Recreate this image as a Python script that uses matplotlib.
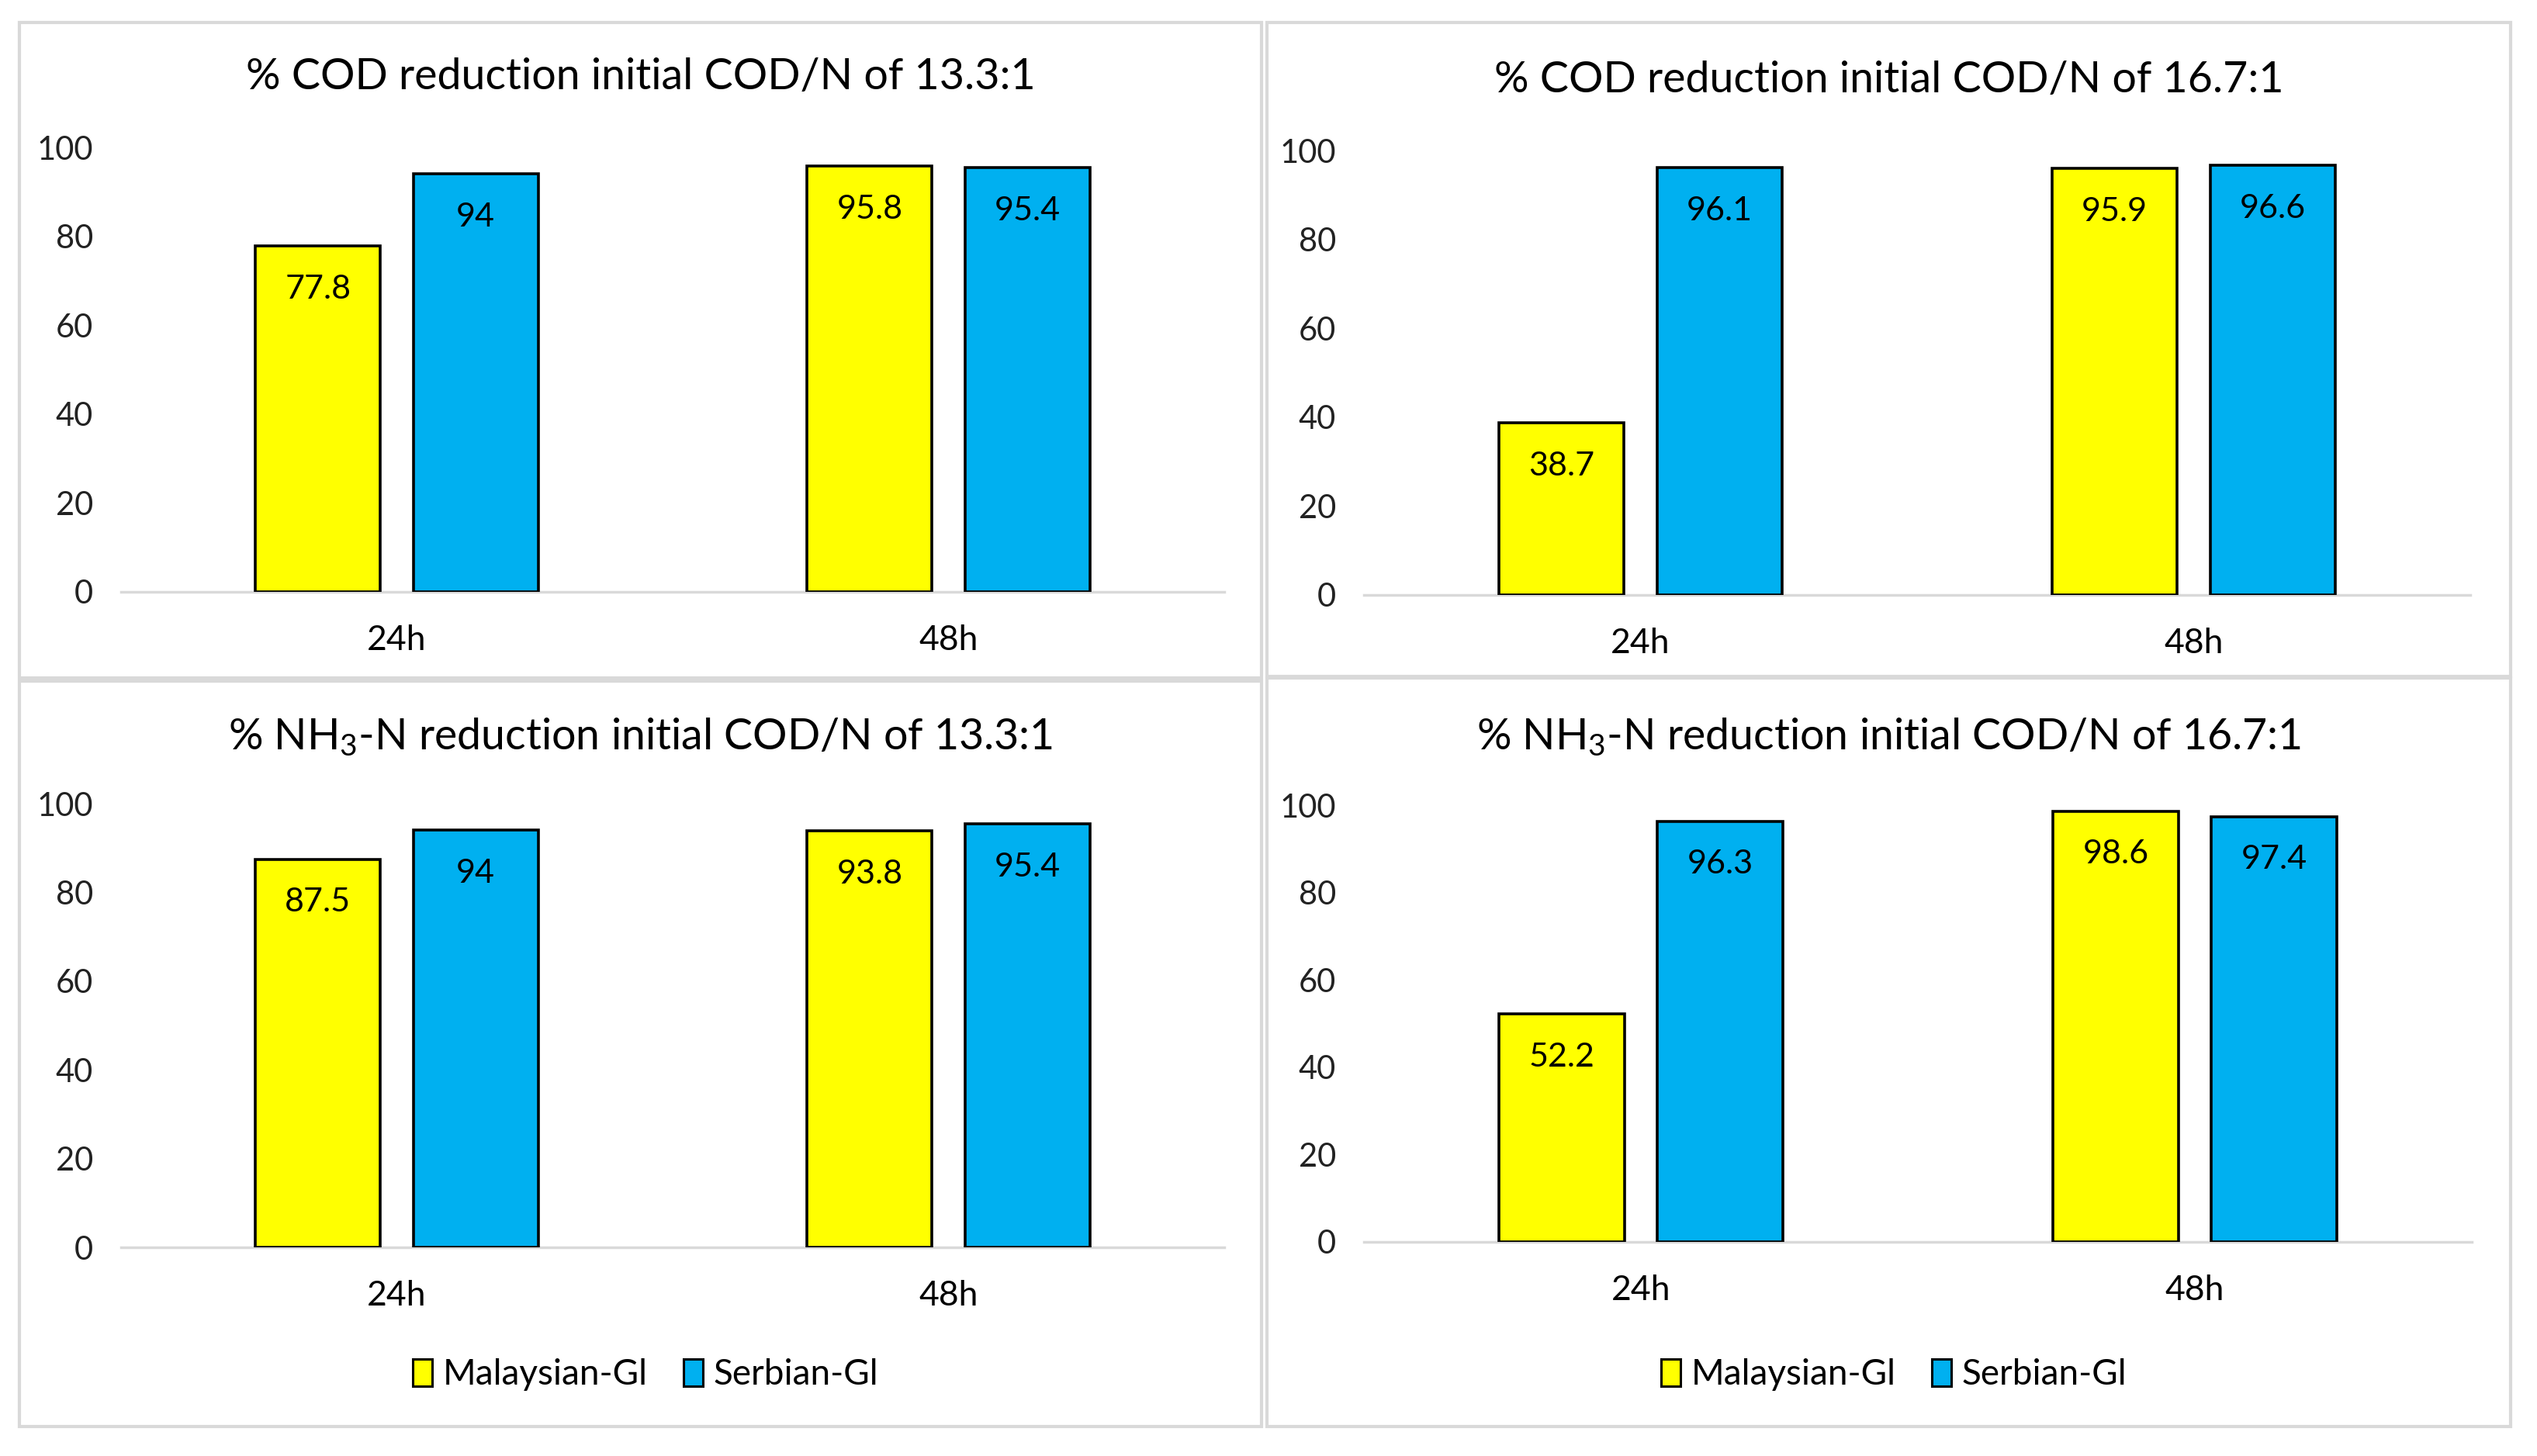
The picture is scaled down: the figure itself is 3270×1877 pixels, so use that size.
import matplotlib
matplotlib.use("Agg")
import matplotlib.pyplot as plt
from matplotlib.patches import Rectangle, Patch

# Chart data
categories = ["24h", "48h"]
series_names = ["Malaysian-Gl", "Serbian-Gl"]

cod_13 = {"Malaysian-Gl": [77.8, 95.8], "Serbian-Gl": [94, 95.4]}
cod_16 = {"Malaysian-Gl": [38.7, 95.9], "Serbian-Gl": [96.1, 96.6]}
nh3_13 = {"Malaysian-Gl": [87.5, 93.8], "Serbian-Gl": [94, 95.4]}
nh3_16 = {"Malaysian-Gl": [52.2, 98.6], "Serbian-Gl": [96.3, 97.4]}

titles = [
    "% COD reduction initial COD/N of 13.3:1",
    "% COD reduction initial COD/N of 16.7:1",
    "% NH$_3$-N reduction initial COD/N of 13.3:1",
    "% NH$_3$-N reduction initial COD/N of 16.7:1",
]
yticks = [0, 20, 40, 60, 80, 100]

colors = {"Malaysian-Gl": "#FFFF00", "Serbian-Gl": "#00B0F0"}

plt.rcParams["font.family"] = ["Lato", "DejaVu Sans"]
plt.rcParams["mathtext.fontset"] = "custom"
plt.rcParams["mathtext.rm"] = "Lato"
plt.rcParams["mathtext.it"] = "Lato"

W, H = 3270, 1877
fig = plt.figure(figsize=(W / 100, H / 100), dpi=100)
fig.patch.set_facecolor("white")


def px_box(x0, y0, x1, y1):
    # pixel box (top-left origin) -> figure fraction [left, bottom, width, height]
    return [x0 / W, 1 - y1 / H, (x1 - x0) / W, (y1 - y0) / H]


# panel frames (light grey boxes like the Excel chart areas)
panels = [(25, 29, 1626, 874), (1633, 29, 3236, 872),
          (25, 878, 1626, 1839), (1633, 874, 3236, 1839)]
for p in panels:
    l, b, w, h = px_box(*p)
    fig.add_artist(Rectangle((l, b), w, h, transform=fig.transFigure,
                             fill=False, edgecolor="#d9d9d9", linewidth=3))

# plot areas
axes_boxes = [(156, 190, 1578, 763), (1758, 194, 3184, 767),
              (156, 1036, 1578, 1608), (1758, 1038, 3186, 1601)]
title_y = [100, 104, 950, 950]
datasets = [cod_13, cod_16, nh3_13, nh3_16]

bar_w = 0.226
offsets = [-0.143, 0.143]

for i, (box, data) in enumerate(zip(axes_boxes, datasets)):
    ax = fig.add_axes(px_box(*box))
    x = list(range(len(categories)))
    for name, off in zip(series_names, offsets):
        vals = data[name]
        bars = ax.bar([xi + off for xi in x], vals, width=bar_w,
                      color=colors[name], edgecolor="black", linewidth=2.6,
                      label=name, zorder=3)
        for bar, v in zip(bars, vals):
            ax.annotate(f"{v:g}", (bar.get_x() + bar.get_width() / 2, v),
                        xytext=(0, -40), textcoords="offset points",
                        ha="center", va="center", fontsize=31)
    ax.set_xlim(-0.5, 1.5)
    ax.set_ylim(0, 100)
    ax.set_yticks(yticks)
    ax.set_xticks(x)
    ax.set_xticklabels(categories)
    ax.tick_params(axis="both", length=0, labelsize=30)
    ax.tick_params(axis="y", pad=26, labelcolor="#222222")
    ax.tick_params(axis="x", pad=30, labelsize=32)
    for s in ["top", "right", "left"]:
        ax.spines[s].set_visible(False)
    ax.spines["bottom"].set_color("#d9d9d9")
    ax.spines["bottom"].set_linewidth(2.5)
    ax.spines["bottom"].set_zorder(2)
    ax.set_facecolor("none")

    # titles and legends are centred on the panel, not the plot area
    pcx = (panels[i][0] + panels[i][2]) / 2 / W
    fig.text(pcx, 1 - title_y[i] / H, titles[i],
             ha="center", va="center", fontsize=40)

    # legend only in the bottom panels
    if i >= 2:
        handles = [Patch(facecolor=colors[n], edgecolor="black", linewidth=2.2)
                   for n in series_names]
        fig.legend(handles, series_names, loc="center",
                   bbox_to_anchor=(pcx + 0.002, 1 - 1772 / H), ncol=2,
                   frameon=False, fontsize=33, handlelength=0.55,
                   handleheight=0.8, handletextpad=0.3, columnspacing=1.0)

fig.savefig("out.png", dpi=100)
